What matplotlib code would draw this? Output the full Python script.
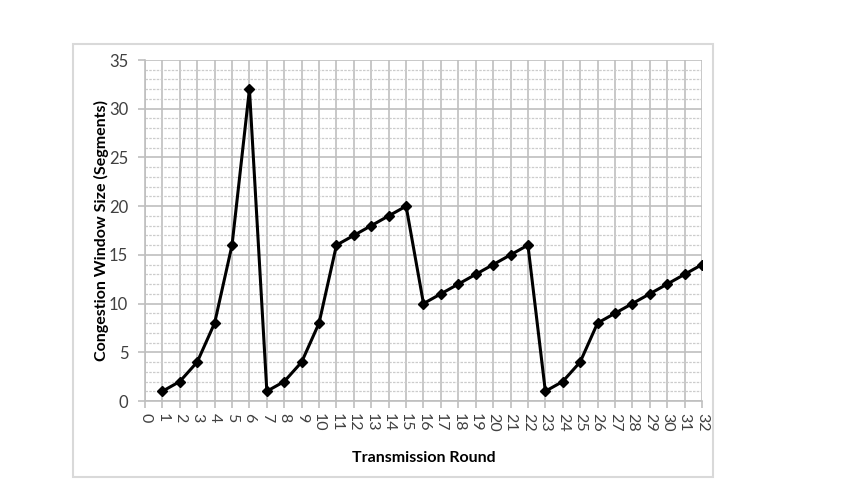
import matplotlib
matplotlib.use('Agg')
import matplotlib.pyplot as plt
from matplotlib.patches import Rectangle

plt.rcParams['font.family'] = ['Lato', 'DejaVu Sans']

rounds = list(range(1, 33))
cwnd = [1, 2, 4, 8, 16, 32, 1, 2, 4, 8, 16, 17, 18, 19, 20,
        10, 11, 12, 13, 14, 15, 16, 1, 2, 4, 8, 9, 10, 11, 12, 13, 14]
x_ticks = list(range(0, 33))
y_ticks = [0, 5, 10, 15, 20, 25, 30, 35]

fig = plt.figure(figsize=(8.53, 4.8), dpi=100)
# chart area border
fig.patches.append(Rectangle((73 / 853, 1 - 477 / 480), (713 - 73) / 853, (477 - 44) / 480,
                             transform=fig.transFigure, fill=False,
                             edgecolor='#d9d9d9', linewidth=1.5))

ax = fig.add_axes([145 / 853, 1 - 401 / 480, (702 - 145) / 853, (401 - 60) / 480])
ax.set_xlim(0, 32)
ax.set_ylim(0, 35)

ax.set_xticks(x_ticks)
ax.set_xticklabels([str(t) for t in x_ticks], rotation=-90, fontsize=11.5, color='#404040')
ax.set_yticks(y_ticks)
ax.set_yticklabels([str(t) for t in y_ticks], fontsize=12, color='#404040')
ax.set_yticks(range(0, 36), minor=True)

ax.grid(True, which='major', color='#bfbfbf', linewidth=1.2)
ax.grid(True, which='minor', axis='y', color='#cccccc', linewidth=0.9, linestyle=(0, (2, 1)))
ax.set_axisbelow(True)

for s in ['top', 'right']:
    ax.spines[s].set_visible(False)
for s in ['left', 'bottom']:
    ax.spines[s].set_color('#bfbfbf')
    ax.spines[s].set_linewidth(1.2)
ax.tick_params(axis='both', which='major', color='#bfbfbf', length=5, width=1.2)
ax.tick_params(axis='y', which='minor', length=0)
ax.tick_params(axis='y', pad=7)

ax.plot(rounds, cwnd, color='black', linewidth=2.2, marker='D', markersize=5, zorder=3)

ax.set_xlabel('Transmission Round', fontsize=11.5, fontweight='bold', labelpad=14)
ax.set_ylabel('Congestion Window Size (Segments)', fontsize=11.5, fontweight='bold', labelpad=0)

fig.savefig('out.png', dpi=100)
